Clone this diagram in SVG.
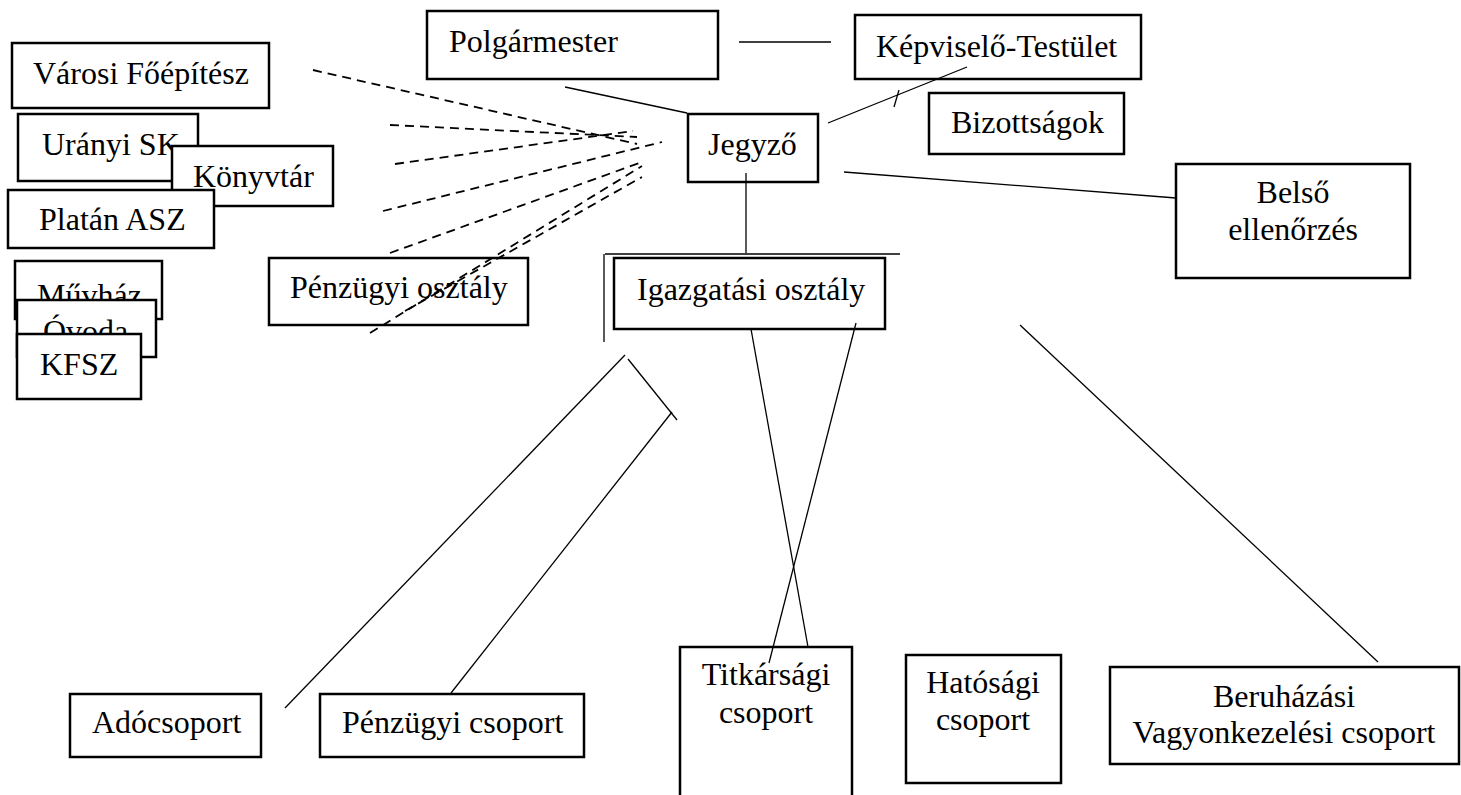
<svg xmlns="http://www.w3.org/2000/svg" width="1461" height="795" viewBox="0 0 1461 795">
<style>
.box{fill:#fff;stroke:#000;stroke-width:2.5}
.t{font-family:"Liberation Serif","Times New Roman",serif;font-size:32px;fill:#000}
.c{text-anchor:middle}
.ln{stroke:#000;stroke-width:1.3;fill:none}
.dl{stroke:#000;stroke-width:1.8;fill:none;stroke-dasharray:9 6}
</style>
<rect width="1461" height="795" fill="#fff"/>
<g id="polgarmester"><rect class="box" x="427" y="11" width="291" height="68"/><text class="t" x="449" y="52">Polgármester</text></g>
<g id="kepviselo"><rect class="box" x="855" y="15" width="286" height="64"/><text class="t" x="876" y="57">Képviselő-Testület</text></g>
<g id="bizottsagok"><rect class="box" x="929" y="93" width="195" height="61"/><text class="t" x="951" y="133">Bizottságok</text></g>
<g id="jegyzo"><rect class="box" x="688" y="114" width="130" height="68"/><text class="t" x="708" y="155">Jegyző</text></g>
<g id="belso"><rect class="box" x="1176" y="164" width="234" height="114"/><text class="t c" x="1293" y="203">Belső</text><text class="t c" x="1293" y="240">ellenőrzés</text></g>
<g id="varosi"><rect class="box" x="12" y="43" width="257" height="65"/><text class="t" x="33" y="84">Városi Főépítész</text></g>
<g id="uranyi"><rect class="box" x="18" y="114" width="180" height="67"/><text class="t" x="42" y="155">Urányi SK</text></g>
<g id="konyvtar"><rect class="box" x="172" y="146" width="161" height="60"/><text class="t" x="193" y="187">Könyvtár</text></g>
<g id="platan"><rect class="box" x="8" y="190" width="206" height="58"/><text class="t" x="39" y="230">Platán ASZ</text></g>
<g id="muvhaz"><rect class="box" x="15" y="261" width="147" height="58"/><text class="t" x="37" y="306">Művház</text></g>
<g id="ovoda"><rect class="box" x="17" y="300" width="139" height="57"/><text class="t" x="43" y="342">Óvoda</text></g>
<g id="kfsz"><rect class="box" x="17" y="334" width="124" height="65"/><text class="t" x="40" y="375">KFSZ</text></g>
<g id="penzugyi-osztaly"><rect class="box" x="269" y="258" width="259" height="67"/><text class="t" x="290" y="298">Pénzügyi osztály</text></g>
<g id="igazgatasi"><line class="ln" x1="605" y1="254" x2="900" y2="254"/><line class="ln" x1="604" y1="254" x2="604" y2="342"/><rect class="box" x="614" y="258" width="271" height="71"/><text class="t" x="637" y="300">Igazgatási osztály</text></g>
<g id="adocsoport"><rect class="box" x="70" y="694" width="191" height="63"/><text class="t" x="92" y="733">Adócsoport</text></g>
<g id="penzugyi-csoport"><rect class="box" x="320" y="694" width="264" height="63"/><text class="t" x="342" y="733">Pénzügyi csoport</text></g>
<g id="titkarsagi"><rect class="box" x="680" y="647" width="172" height="170"/><text class="t c" x="766" y="685">Titkársági</text><text class="t c" x="766" y="723">csoport</text></g>
<g id="hatosagi"><rect class="box" x="906" y="655" width="155" height="128"/><text class="t c" x="983" y="693">Hatósági</text><text class="t c" x="983" y="730">csoport</text></g>
<g id="beruhazasi"><rect class="box" x="1110" y="667" width="349" height="97"/><text class="t c" x="1284" y="707">Beruházási</text><text class="t c" x="1284" y="743">Vagyonkezelési csoport</text></g>
<g id="connectors">
<line class="ln" x1="739" y1="42" x2="831" y2="42"/>
<line class="ln" x1="565" y1="87" x2="687" y2="113"/>
<line class="ln" x1="828" y1="123" x2="967" y2="67"/>
<line class="ln" x1="899" y1="90" x2="894" y2="107"/>
<line class="ln" x1="844" y1="172" x2="1176" y2="198"/>
<line class="ln" x1="746" y1="173" x2="746" y2="253"/>
<line class="ln" x1="751" y1="329" x2="808" y2="647"/>
<line class="ln" x1="856" y1="323" x2="769" y2="663"/>
<line class="ln" x1="625" y1="355" x2="285" y2="708"/>
<line class="ln" x1="628" y1="359" x2="677" y2="420"/>
<line class="ln" x1="672" y1="412" x2="451" y2="693"/>
<line class="ln" x1="1020" y1="325" x2="1378" y2="662"/>
<line class="dl" x1="313" y1="70" x2="637" y2="144"/>
<line class="dl" x1="390" y1="125" x2="637" y2="137"/>
<line class="dl" x1="395" y1="164" x2="633" y2="131"/>
<line class="dl" x1="383" y1="211" x2="662" y2="142"/>
<line class="dl" x1="390" y1="253" x2="642" y2="162"/>
<line class="dl" x1="370" y1="333" x2="642" y2="166"/>
<line class="dl" x1="405" y1="311" x2="642" y2="177"/>
</g>
</svg>
